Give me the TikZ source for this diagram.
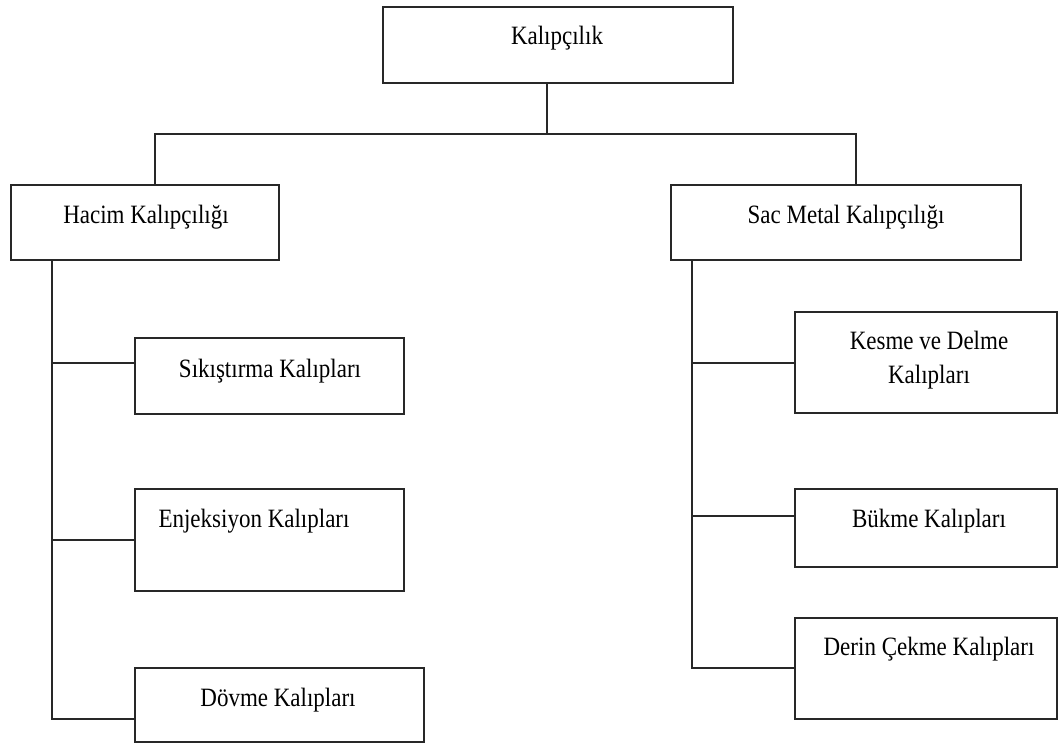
\documentclass[tikz,border=0pt]{standalone}
\usepackage{fontspec}
\setmainfont{Liberation Serif}
\newcommand{\tx}[1]{\scalebox{1}[1.15]{#1}}
\begin{document}
\begin{tikzpicture}[x=1pt,y=-1pt,
  box/.style={draw=linec, line width=1.4pt, inner sep=0pt, outer sep=0pt, rectangle},
  txt/.style={inner sep=0pt, outer sep=0pt, anchor=base, font=\fontsize{23}{34}\selectfont, text=black},
  conn/.style={draw=linec, line width=1.4pt}]
\definecolor{linec}{RGB}{40,40,40}
\useasboundingbox[fill=white] (0,0) rectangle (1059,744);
% boxes
\node[box, minimum width=350pt, minimum height=76pt] (k) at (558,45) {};
\node[box, minimum width=268pt, minimum height=75pt] (h) at (145,222.5) {};
\node[box, minimum width=350pt, minimum height=75pt] (s) at (846,222.5) {};
\node[box, minimum width=269pt, minimum height=76pt] (a) at (269.5,376) {};
\node[box, minimum width=269pt, minimum height=102pt] (b) at (269.5,540) {};
\node[box, minimum width=289pt, minimum height=74pt] (c) at (279.5,705) {};
\node[box, minimum width=262pt, minimum height=101pt] (d) at (926,362.5) {};
\node[box, minimum width=262pt, minimum height=78pt] (e) at (926,528) {};
\node[box, minimum width=262pt, minimum height=101pt] (f) at (926,668.5) {};
% texts
\node[txt] (tk) at (557,44) {\tx{Kalıpçılık}};
\node[txt] (th) at (146,223) {\tx{Hacim Kalıpçılığı}};
\node[txt] (ts) at (846,223) {\tx{Sac Metal Kalıpçılığı}};
\node[txt] (ta) at (270,377) {\tx{Sıkıştırma Kalıpları}};
\node[txt] (tb) at (254,527) {\tx{Enjeksiyon Kalıpları}};
\node[txt] (tc) at (278,706) {\tx{Dövme Kalıpları}};
\node[txt, align=center] (td) at (929,383) {\tx{Kesme ve Delme}\\\tx{Kalıpları}};
\node[txt] (te) at (929,527) {\tx{Bükme Kalıpları}};
\node[txt] (tf) at (929,655) {\tx{Derin Çekme Kalıpları}};
% connector coordinates
\coordinate (top) at (547,134);
\coordinate (hl) at (155,134);
\coordinate (hr) at (856,134);
\coordinate (la) at (52,363);
\coordinate (lb) at (52,540);
\coordinate (lc) at (52,719);
\coordinate (rd) at (692,363);
\coordinate (re) at (692,516);
\coordinate (rf) at (692,668);
% connectors
\draw[conn] (top |- k.south) -- (top);
\draw[conn] (hl |- h.north) -- (hl) -- (hr) -- (hr |- s.north);
\draw[conn] (lc |- h.south) -- (lc) -- (lc -| c.west);
\draw[conn] (la) -- (la -| a.west);
\draw[conn] (lb) -- (lb -| b.west);
\draw[conn] (rf |- s.south) -- (rf) -- (rf -| f.west);
\draw[conn] (rd) -- (rd -| d.west);
\draw[conn] (re) -- (re -| e.west);
\end{tikzpicture}
\end{document}
